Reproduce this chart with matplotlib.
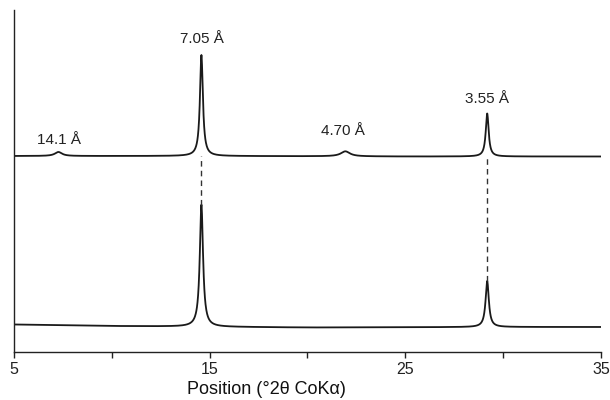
import numpy as np
import matplotlib
matplotlib.use('Agg')
import matplotlib.pyplot as plt

plt.rcParams['font.family'] = ['Liberation Sans', 'DejaVu Sans']

# peak list per pattern: position (deg 2theta), height (a.u.), half width (deg)
top_pos = [7.27, 14.58, 21.94, 29.19]
top_height = [4, 101, 5, 43]
top_hwhm = [0.22, 0.09, 0.28, 0.09]
top_base_x = [5, 15, 25, 35]
top_base_y = [196, 196, 195.5, 195.5]

bot_pos = [14.58, 29.19]
bot_height = [122, 46]
bot_hwhm = [0.1, 0.1]
bot_base_x = [5, 10, 20, 30, 35]
bot_base_y = [27.5, 26, 24.5, 25, 25]

labels = ['14.1 Å', '7.05 Å', '4.70 Å', '3.55 Å']
label_pos = [7.3, 14.6, 21.8, 29.2]
label_y = [205, 306, 214, 246]

xx = np.linspace(5, 35, 3001)


def pattern(pos, height, hwhm, bx, by):
    y = np.interp(xx, bx, by)
    for p, h, w in zip(pos, height, hwhm):
        y = y + h * w**2 / ((xx - p)**2 + w**2)
    return y


y_top = pattern(top_pos, top_height, top_hwhm, top_base_x, top_base_y)
y_bot = pattern(bot_pos, bot_height, bot_hwhm, bot_base_x, bot_base_y)

fig = plt.figure(figsize=(6.1, 4.0), dpi=100)
ax = fig.add_axes([0.023, 0.12, 0.962, 0.855])

ax.plot(xx, y_top, color='#1a1a1a', lw=1.3)
ax.plot(xx, y_bot, color='#1a1a1a', lw=1.3)

# dashed guides from upper baseline down to the lower peaks
for p, h in zip(bot_pos, bot_height):
    base = np.interp(p, bot_base_x, bot_base_y)
    ax.plot([p, p], [base + h, np.interp(p, top_base_x, top_base_y)],
            color='#333333', lw=1.0, ls=(0, (4, 3)))

for t, x, y in zip(labels, label_pos, label_y):
    ax.text(x, y, t, ha='center', va='bottom', fontsize=11, color='#222222')

ax.set_xlim(5, 35)
ax.set_ylim(0, 342)
ax.set_xticks([5, 10, 15, 20, 25, 30, 35])
ax.set_xticklabels(['5', '', '15', '', '25', '', '35'])
ax.set_yticks([])
ax.tick_params(axis='x', direction='out', length=4.5, width=1, labelsize=11.5,
               pad=3, colors='#222222')
for s in ['top', 'right']:
    ax.spines[s].set_visible(False)
for s in ['left', 'bottom']:
    ax.spines[s].set_linewidth(1)
    ax.spines[s].set_color('#222222')
ax.set_xlabel('Position (°2θ CoKα)', fontsize=13, color='#111111')
ax.xaxis.set_label_coords(0.43, -0.085)

fig.savefig('out.png', dpi=100)
